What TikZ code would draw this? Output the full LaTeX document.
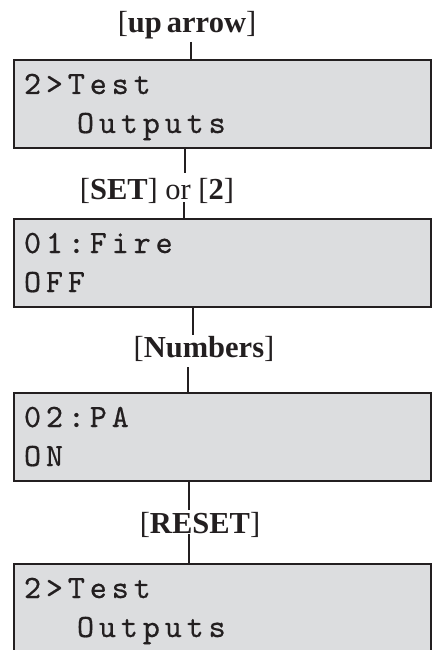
\documentclass[tikz,border=0pt]{standalone}
\usepackage{fontspec}
\setmainfont{Liberation Serif}
\newfontfamily\lcdfont{lmmono10-regular.otf}[LetterSpace=15,FakeBold=0.5]
\definecolor{ink}{RGB}{35,31,32}
\definecolor{lcdgray}{RGB}{220,221,223}
\newcommand{\lcdtext}[2]{\rule{0pt}{27pt}#1\\#2\rule[-8pt]{0pt}{8pt}}
\tikzset{
  lcd/.style={draw=ink, fill=lcdgray, line width=2.4pt, rectangle,
    minimum width=417pt, minimum height=88pt, text width=397pt,
    align=left, text=ink, font=\fontsize{32.5}{39}\lcdfont},
  key/.style={text=ink, inner sep=0pt, font=\fontsize{30.5}{32}\selectfont},
  link/.style={draw=ink, line width=1.8pt}
}

\begin{document}
\begin{tikzpicture}[x=1pt,y=-1pt]
        \useasboundingbox (0,0) rectangle (432,650);

        % the four display screens
        \node[lcd] (menu)  at (222.5,104) {\lcdtext{2>Test}{\hspace*{53pt}Outputs}};
        \node[lcd] (fire)  at (222.5,263) {\lcdtext{01:Fire}{OFF}};
        \node[lcd] (pa)    at (222.5,437) {\lcdtext{02:PA}{ON}};
        \node[lcd] (back)  at (222.5,608) {\lcdtext{2>Test}{\hspace*{53pt}Outputs}};

        % key presses
        \node[key, anchor=base] (up)   at (187,33)  {[\textbf{up\,arrow}]};
        \node[key, anchor=base] (set)  at (157,199) {[\textbf{SET}] or [\textbf{2}]};
        \node[key, anchor=base] (num)  at (204,357) {[\textbf{Numbers}]};
        \node[key, anchor=base] (rst)  at (200,533) {[\textbf{RESET}]};

        % free ends of the connectors
        \coordinate (a1) at (191,42);
        \coordinate (b1) at (185,173);
        \coordinate (b2) at (184,202);
        \coordinate (c1) at (193,335);
        \coordinate (c2) at (188,367);
        \coordinate (e1) at (189,510);
        \coordinate (e2) at (189,534);

        \draw[link] (a1) -- (a1 |- menu.north);
        \draw[link] (b1 |- menu.south) -- (b1);
        \draw[link] (b2) -- (b2 |- fire.north);
        \draw[link] (c1 |- fire.south) -- (c1);
        \draw[link] (c2) -- (c2 |- pa.north);
        \draw[link] (e1 |- pa.south) -- (e1);
        \draw[link] (e2) -- (e2 |- back.north);
\end{tikzpicture}
\end{document}
